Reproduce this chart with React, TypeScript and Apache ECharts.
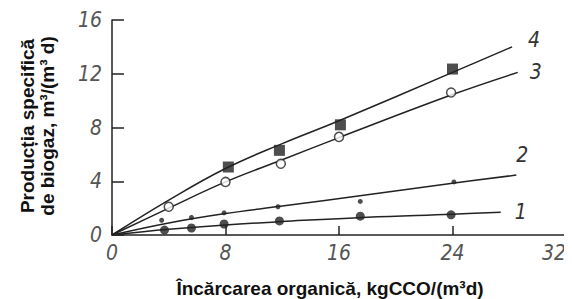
import React, { useEffect, useRef } from "react";
import * as echarts from "echarts";

const xTicks = [0, 8, 16, 24, 32];
const yTicks = [0, 4, 8, 12, 16];

const seriesNames = ["1", "2", "3", "4"];

// measured points
const pts1: [number, number][] = [[3.7, 0.37], [5.6, 0.52], [7.9, 0.82], [11.8, 1.05], [17.5, 1.4], [23.9, 1.5]];
const pts2: [number, number][] = [[3.5, 1.1], [5.6, 1.3], [7.9, 1.65], [11.7, 2.1], [17.5, 2.5], [24.1, 3.95]];
const pts3: [number, number][] = [[4.0, 2.1], [8.0, 3.95], [11.9, 5.3], [16.0, 7.3], [23.9, 10.6]];
const pts4: [number, number][] = [[8.2, 5.06], [11.8, 6.3], [16.1, 8.2], [24.0, 12.35]];

// fitted curves
const curve1: [number, number][] = [[0, 0], [4, 0.42], [8, 0.75], [12, 1.0], [18, 1.33], [24, 1.55], [27.4, 1.7]];
const curve2: [number, number][] = [[0, 0], [4, 0.9], [8, 1.6], [12, 2.15], [18, 3.0], [24, 3.85], [28.5, 4.46]];
const curve3: [number, number][] = [[0, 0], [4, 2.0], [8, 3.95], [12, 5.6], [16, 7.25], [24, 10.45], [28.6, 12.1]];
const curve4: [number, number][] = [[0, 0], [4, 2.6], [8, 4.95], [12, 6.8], [16, 8.5], [24, 12.1], [28.2, 14.0]];

const labelOffsets: [number, number][] = [[6, 0], [-8, -20], [4, 0], [8, -7]];

export default function App() {
  const ref = useRef<HTMLDivElement>(null);
  useEffect(() => {
    if (!ref.current) return;
    const chart = echarts.init(ref.current, undefined, { renderer: "svg" });
    const lineColor = "#222";
    const tickFont = {
      fontStyle: "italic" as const,
      fontFamily: "'DejaVu Sans Condensed', 'DejaVu Sans'",
      fontWeight: "lighter" as any,
      fontSize: 21,
      color: "#555",
    };
    const curves = [curve1, curve2, curve3, curve4];
    const points = [pts1, pts2, pts3, pts4];
    const symbols = ["circle", "circle", "circle", "rect"];
    const sizes = [9, 5, 9, 11];
    const fills = [lineColor, lineColor, "#fff", lineColor];

    const lineSeries = curves.map((c, i) => ({
      name: seriesNames[i],
      type: "line",
      data: c,
      smooth: 0.4,
      showSymbol: false,
      lineStyle: { color: lineColor, width: 1.5 },
      endLabel: {
        show: true,
        formatter: seriesNames[i],
        offset: labelOffsets[i],
        ...tickFont,
        color: "#333",
      },
      z: 2,
    }));
    const scatterSeries = points.map((p, i) => ({
      type: "scatter",
      data: p,
      symbol: symbols[i],
      symbolSize: sizes[i],
      itemStyle: { color: fills[i], borderColor: lineColor, borderWidth: i === 2 ? 1.5 : 0 },
      z: 3,
    }));

    chart.setOption({
      animation: false,
      backgroundColor: "#fff",
      grid: { left: 112, right: 6, top: 20, bottom: 64 },
      xAxis: {
        type: "value",
        min: xTicks[0],
        max: xTicks[xTicks.length - 1],
        interval: 8,
        axisLine: { show: true, lineStyle: { color: lineColor, width: 1.5 } },
        axisTick: { show: true, inside: true, length: 9, lineStyle: { color: lineColor, width: 1.5 } },
        axisLabel: { ...tickFont, margin: 7, alignMaxLabel: "right" },
        splitLine: { show: false },
      },
      yAxis: {
        type: "value",
        min: yTicks[0],
        max: yTicks[yTicks.length - 1],
        interval: 4,
        axisLine: { show: true, lineStyle: { color: lineColor, width: 1.5 } },
        axisTick: { show: true, inside: true, length: 12, lineStyle: { color: lineColor, width: 1.5 } },
        axisLabel: { ...tickFont, margin: 10 },
        splitLine: { show: false },
      },
      graphic: [
        {
          type: "text",
          x: 37,
          y: 126,
          rotation: Math.PI / 2,
          style: {
            text: "Producția specifică\nde biogaz, m³/(m³ d)",
            font: "bold 19px 'Liberation Sans'",
            fill: "#111",
            align: "center",
            verticalAlign: "middle",
            lineHeight: 20,
          },
        },
        {
          type: "text",
          x: 330,
          y: 288,
          style: {
            text: "Încărcarea organică, kgCCO/(m³d)",
            font: "bold 19px 'Liberation Sans'",
            fill: "#111",
            align: "center",
            verticalAlign: "middle",
          },
        },
      ],
      series: [...lineSeries, ...scatterSeries],
    });
    return () => chart.dispose();
  }, []);
  return <div ref={ref} style={{ width: 572, height: 299, marginLeft: -8, marginTop: -8 }} />;
}
